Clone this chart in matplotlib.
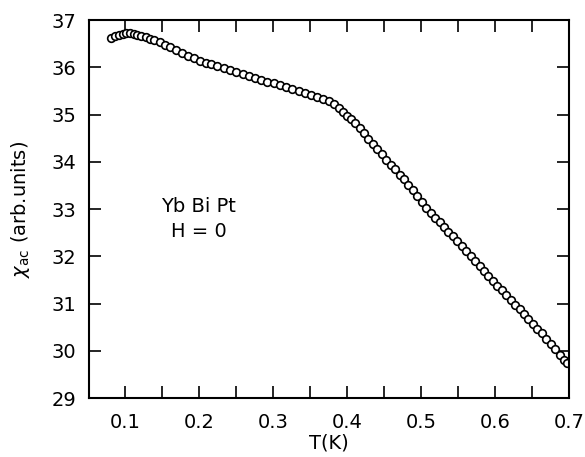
import numpy as np
import matplotlib
matplotlib.use("Agg")
import matplotlib.pyplot as plt
from matplotlib.ticker import MultipleLocator

# Temperature (K)
temperature = [
    0.081, 0.087, 0.092, 0.097, 0.102, 0.107, 0.112, 0.117, 0.122, 0.128,
    0.134, 0.140, 0.147, 0.154, 0.161, 0.169, 0.177, 0.185, 0.193, 0.201,
    0.209, 0.217, 0.225, 0.234, 0.242, 0.250, 0.259, 0.267, 0.276, 0.284,
    0.292, 0.301, 0.309, 0.318, 0.326, 0.335, 0.343, 0.351, 0.360, 0.368,
    0.376, 0.383, 0.389, 0.395, 0.400, 0.406, 0.411, 0.417, 0.423, 0.429,
    0.435, 0.441, 0.447, 0.453, 0.459, 0.465, 0.471, 0.477, 0.483, 0.489,
    0.495, 0.501, 0.507, 0.513, 0.519, 0.525, 0.531, 0.537, 0.543, 0.549,
    0.555, 0.561, 0.567, 0.573, 0.579, 0.585, 0.591, 0.597, 0.603, 0.609,
    0.615, 0.621, 0.627, 0.633, 0.639, 0.645, 0.651, 0.657, 0.663, 0.669,
    0.675, 0.681, 0.687, 0.693, 0.697,
]

# ac susceptibility (arb. units)
chi_ac = [
    36.63, 36.67, 36.69, 36.71, 36.72, 36.72, 36.71, 36.69, 36.67, 36.64,
    36.61, 36.57, 36.53, 36.48, 36.43, 36.37, 36.31, 36.25, 36.19, 36.14,
    36.10, 36.07, 36.03, 35.98, 35.94, 35.90, 35.86, 35.82, 35.78, 35.74,
    35.70, 35.66, 35.62, 35.58, 35.54, 35.49, 35.45, 35.41, 35.37, 35.33,
    35.29, 35.23, 35.15, 35.06, 34.98, 34.91, 34.83, 34.72, 34.61, 34.49,
    34.38, 34.27, 34.16, 34.04, 33.94, 33.84, 33.73, 33.63, 33.52, 33.40,
    33.27, 33.14, 33.03, 32.92, 32.82, 32.72, 32.62, 32.52, 32.42, 32.32,
    32.21, 32.11, 32.01, 31.91, 31.80, 31.69, 31.59, 31.48, 31.38, 31.28,
    31.18, 31.08, 30.98, 30.88, 30.78, 30.67, 30.57, 30.47, 30.37, 30.26,
    30.14, 30.03, 29.92, 29.81, 29.74,
]

x_ticks = [0.1, 0.2, 0.3, 0.4, 0.5, 0.6, 0.7]
x_tick_labels = ["0.1", "0.2", "0.3", "0.4", "0.5", "0.6", "0.7"]
y_ticks = [29, 30, 31, 32, 33, 34, 35, 36, 37]

plt.rcParams['font.family'] = ['DejaVu Sans']

fig = plt.figure(figsize=(5.85, 4.57), dpi=100)
ax = fig.add_axes([0.152, 0.129, 0.821, 0.827])

# open circle markers
ax.plot(temperature, chi_ac, linestyle='none', marker='o', markersize=5.5,
        markerfacecolor='white', markeredgecolor='black', markeredgewidth=1.2)

ax.set_xlim(0.0515, 0.7)
ax.set_ylim(29, 37)

ax.set_xticks(x_ticks)
ax.set_xticklabels(x_tick_labels)
ax.xaxis.set_minor_locator(MultipleLocator(0.05))
ax.set_yticks(y_ticks)

ax.tick_params(which='both', direction='in', top=True, right=True,
               length=8.5, width=1.2, labelsize=14)
ax.tick_params(axis='x', pad=11)
ax.tick_params(axis='y', pad=9)
for sp in ax.spines.values():
    sp.set_linewidth(1.5)

ax.set_xlabel("T(K)", fontsize=14, labelpad=1)
ax.set_ylabel(r"$\chi_{\rm ac}$ (arb.units)", fontsize=14, labelpad=14)

ax.text(0.2, 33.06, "Yb Bi Pt", fontsize=14, ha='center', va='center')
ax.text(0.2, 32.53, "H = 0", fontsize=14, ha='center', va='center')

fig.savefig("out.png", dpi=100)
